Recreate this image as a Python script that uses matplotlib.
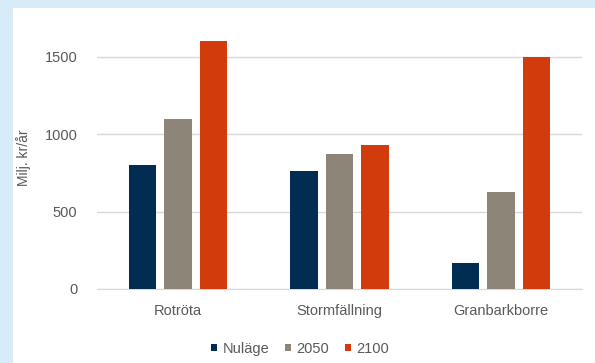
import numpy as np
import matplotlib
matplotlib.use("Agg")
import matplotlib.pyplot as plt
from matplotlib.patches import Rectangle

plt.rcParams['font.family'] = ['Liberation Sans', 'DejaVu Sans']

# Kostnader per skadetyp (Milj. kr/år)
kategorier = ["Rotröta", "Stormfällning", "Granbarkborre"]
serier = ["Nuläge", "2050", "2100"]
nulage = [800, 760, 170]
ar_2050 = [1100, 870, 630]
ar_2100 = [1600, 930, 1500]
yticks = [0, 500, 1000, 1500]

farger = ["#022d52", "#8d8678", "#d23b0b"]
textfarg = "#595959"

fig = plt.figure(figsize=(5.95, 3.63), dpi=100)
fig.patch.set_facecolor("#d7ecf8")
# vit panel bakom diagrammet
fig.patches.append(Rectangle((13/595, 0), 1, 1 - 8/363, transform=fig.transFigure,
                             facecolor="white", edgecolor="none", zorder=-10))

ax = fig.add_axes([0.163, 0.2039, 0.815, 0.7245])
ax.set_facecolor("none")

x = np.arange(len(kategorier))
bredd = 0.17
steg = 0.22
for i, (namn, vals) in enumerate(zip(serier, [nulage, ar_2050, ar_2100])):
    ax.bar(x + (i - 1) * steg, vals, bredd, color=farger[i], label=namn, zorder=3)

ax.set_xlim(-0.5, 2.5)
ax.set_ylim(0, 1700)
ax.set_yticks(yticks)
ax.set_yticklabels([str(v) for v in yticks])
ax.set_xticks(x)
ax.set_xticklabels(kategorier)
ax.grid(axis="y", color="#d9d9d9", linewidth=1, zorder=0)
for s in ["top", "right", "left"]:
    ax.spines[s].set_visible(False)
ax.spines["bottom"].set_color("#d9d9d9")
ax.tick_params(length=0, colors=textfarg)
ax.tick_params(axis="y", pad=14, labelsize=10.5)
ax.tick_params(axis="x", pad=11, labelsize=10.5)

ax.set_ylabel("Milj. kr/år", color=textfarg, fontsize=10)
ax.yaxis.set_label_coords(-0.137, 0.5)

leg = ax.legend(loc="upper center", bbox_to_anchor=(0.419, -0.15), ncol=3, frameon=False,
                fontsize=10.5, handlelength=0.42, handleheight=0.42, handletextpad=0.35,
                columnspacing=1.1, labelcolor=textfarg)

fig.savefig("out.png", dpi=100, facecolor=fig.get_facecolor())
